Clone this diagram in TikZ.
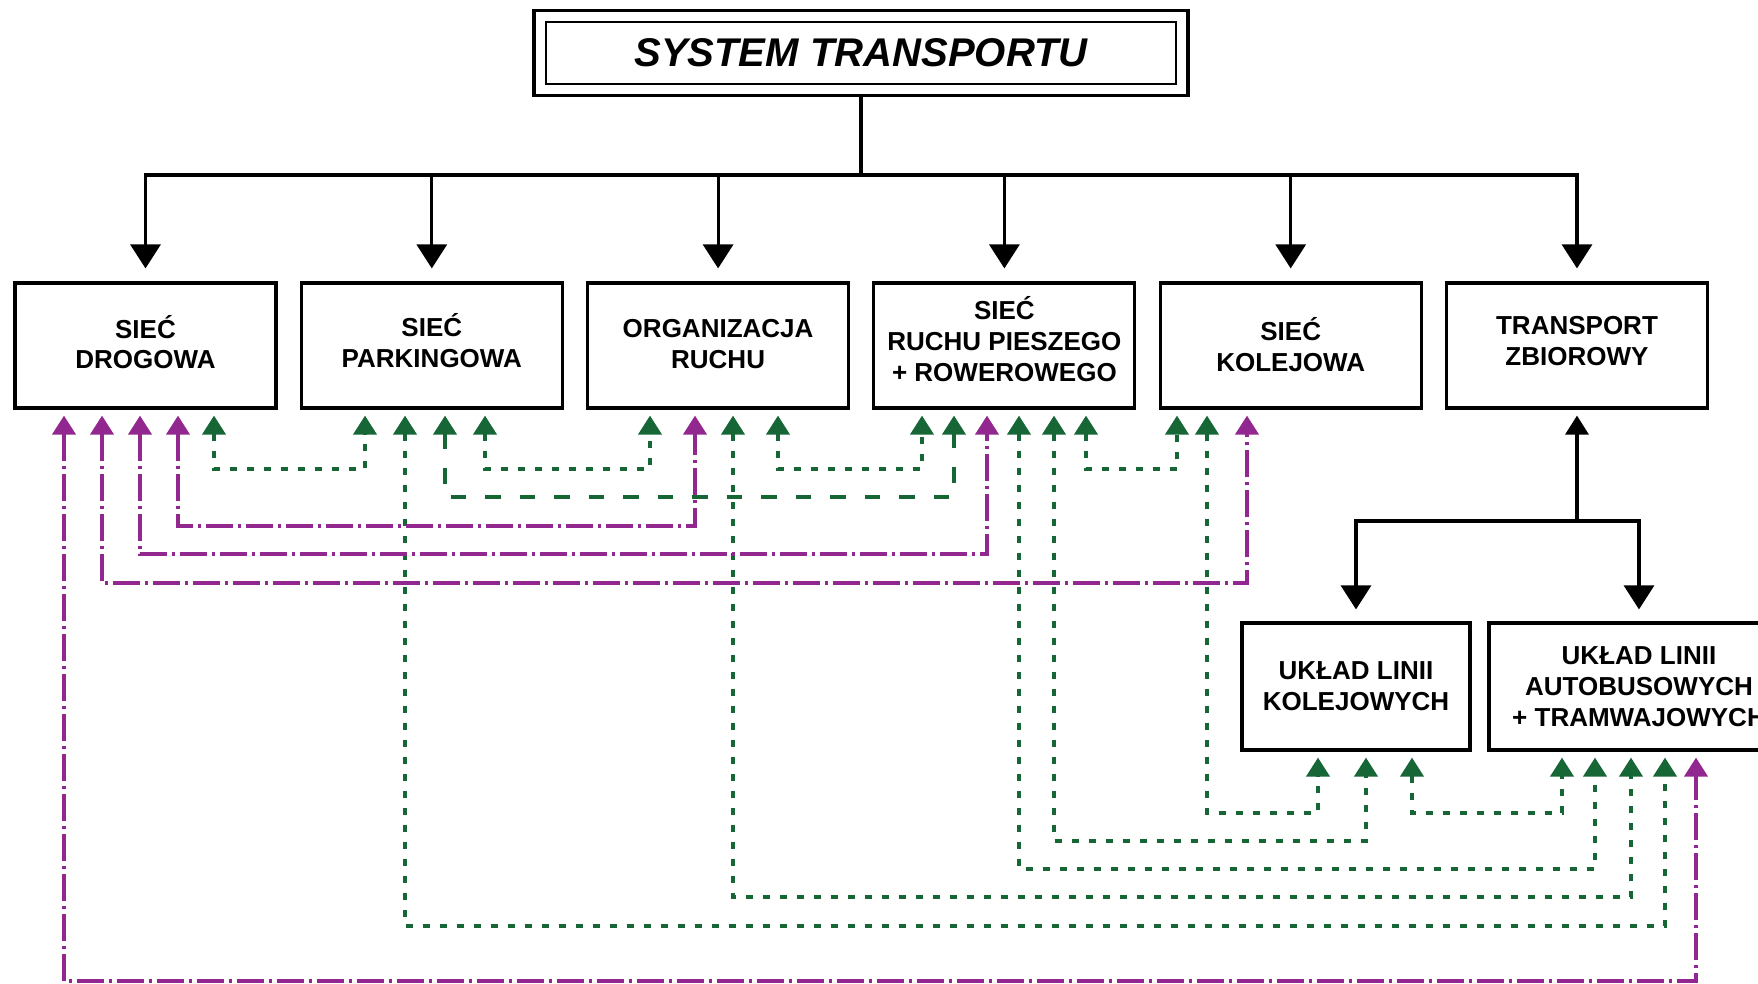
\documentclass[tikz,border=0pt]{standalone}
\usepackage{fontspec}
\setmainfont{Liberation Sans}
\usetikzlibrary{arrows.meta}
\definecolor{fiolet}{RGB}{146,39,143}
\definecolor{zielen}{RGB}{22,102,54}
\tikzset{
    box/.style={draw,line width=.9pt,minimum width=26.1mm,minimum height=12.5mm,inner sep=0pt,align=center,font=\fontsize{7.4}{8.8}\selectfont\bfseries},
    czarna/.style={line width=.9pt,-{Triangle[length=2.4mm,width=3mm]}},
    polacz/.style={line width=1.1pt,<->,>={Triangle[length=1.9mm,width=2.3mm]},shorten <=.6mm,shorten >=.6mm},
    gdot/.style={polacz,zielen,dash pattern=on .7mm off 1mm},
    gdash/.style={polacz,zielen,dash pattern=on 1.55mm off 1.9mm},
    pdd/.style={polacz,fiolet,dash pattern=on 2.7mm off .5mm on .3mm off .5mm},
}
\begin{document}
\begin{tikzpicture}[x=.1mm,y=-.1mm]
    \useasboundingbox (0,0) rectangle (1758,984);
    \clip (0,0) rectangle (1758,984);
    \node[draw,line width=1pt,minimum width=65.4mm,minimum height=8.5mm,font=\fontsize{11.4}{13}\selectfont\bfseries\itshape] (t) at (861,53) {SYSTEM TRANSPORTU};
    \draw[line width=.6pt] ([shift={(14,13)}]t.north west) rectangle ([shift={(-14,-13)}]t.south east);
    % bloki glowne (nr/tekst/przesuniecie tekstu w gore)
    \foreach \i/\t/\d in {1/{SIEĆ\\DROGOWA}/3.4,2/{SIEĆ\\PARKINGOWA}/4.5,3/{ORGANIZACJA\\RUCHU}/1,4/{SIEĆ\\RUCHU PIESZEGO\\+ ROWEROWEGO}/6.7,5/{SIEĆ\\KOLEJOWA}/1,6/{TRANSPORT\\ZBIOROWY}/4.5}
        \node[box,label={[box,draw=none,yshift=\d*.1mm]center:\t}] (b\i) at ({145.5+286.3*(\i-1)},345.5) {};
    \node[box,minimum width=22.8mm,minimum height=12.7mm] (b7) at (1356,686.5) {UKŁAD LINII\\KOLEJOWYCH};
    \node[box,minimum width=30mm,minimum height=12.7mm] (b8) at (1639,686.5) {UKŁAD LINII\\AUTOBUSOWYCH\\+ TRAMWAJOWYCH};
    \coordinate (szyna) at (t.south |- 0,175);
    \coordinate (wezel) at (b6.south |- 0,521);
    \draw[line width=.9pt] (t) -- (szyna);
    \foreach \i in {1,...,6} \draw[czarna,shorten >=1.3mm] (szyna) -| (b\i.north);
    \draw[line width=.9pt,-{Triangle[length=1.9mm,width=2.3mm]},shorten >=.6mm] (wezel) -- (b6.south);
    \foreach \j in {7,8} \draw[czarna,shorten >=1.2mm] (wezel) -| (b\j.north);
    % powiazania: blok/x -- blok/x, poziom y
    \foreach \a/\xa/\b/\xb/\y/\s in {b1/214/b2/365/469/gdot,b2/485/b3/650/469/gdot,b3/778/b4/922/469/gdot,b4/1086/b5/1177/469/gdot,
        b5/1207/b7/1318/813/gdot,b7/1412/b8/1562/813/gdot,b4/1054/b7/1366/841/gdot,b4/1019/b8/1595/869/gdot,
        b3/733/b8/1631/897/gdot,b2/405/b8/1665/926/gdot,b2/445/b4/954/497/gdash,
        b1/178/b3/695/526/pdd,b1/140/b4/987/554/pdd,b1/102/b5/1247/583/pdd,b1/64/b8/1696/981/pdd}
        \draw[\s] (\a.south -| \xa,0) |- (\xb,\y) -- (\b.south -| \xb,0);
\end{tikzpicture}
\end{document}
